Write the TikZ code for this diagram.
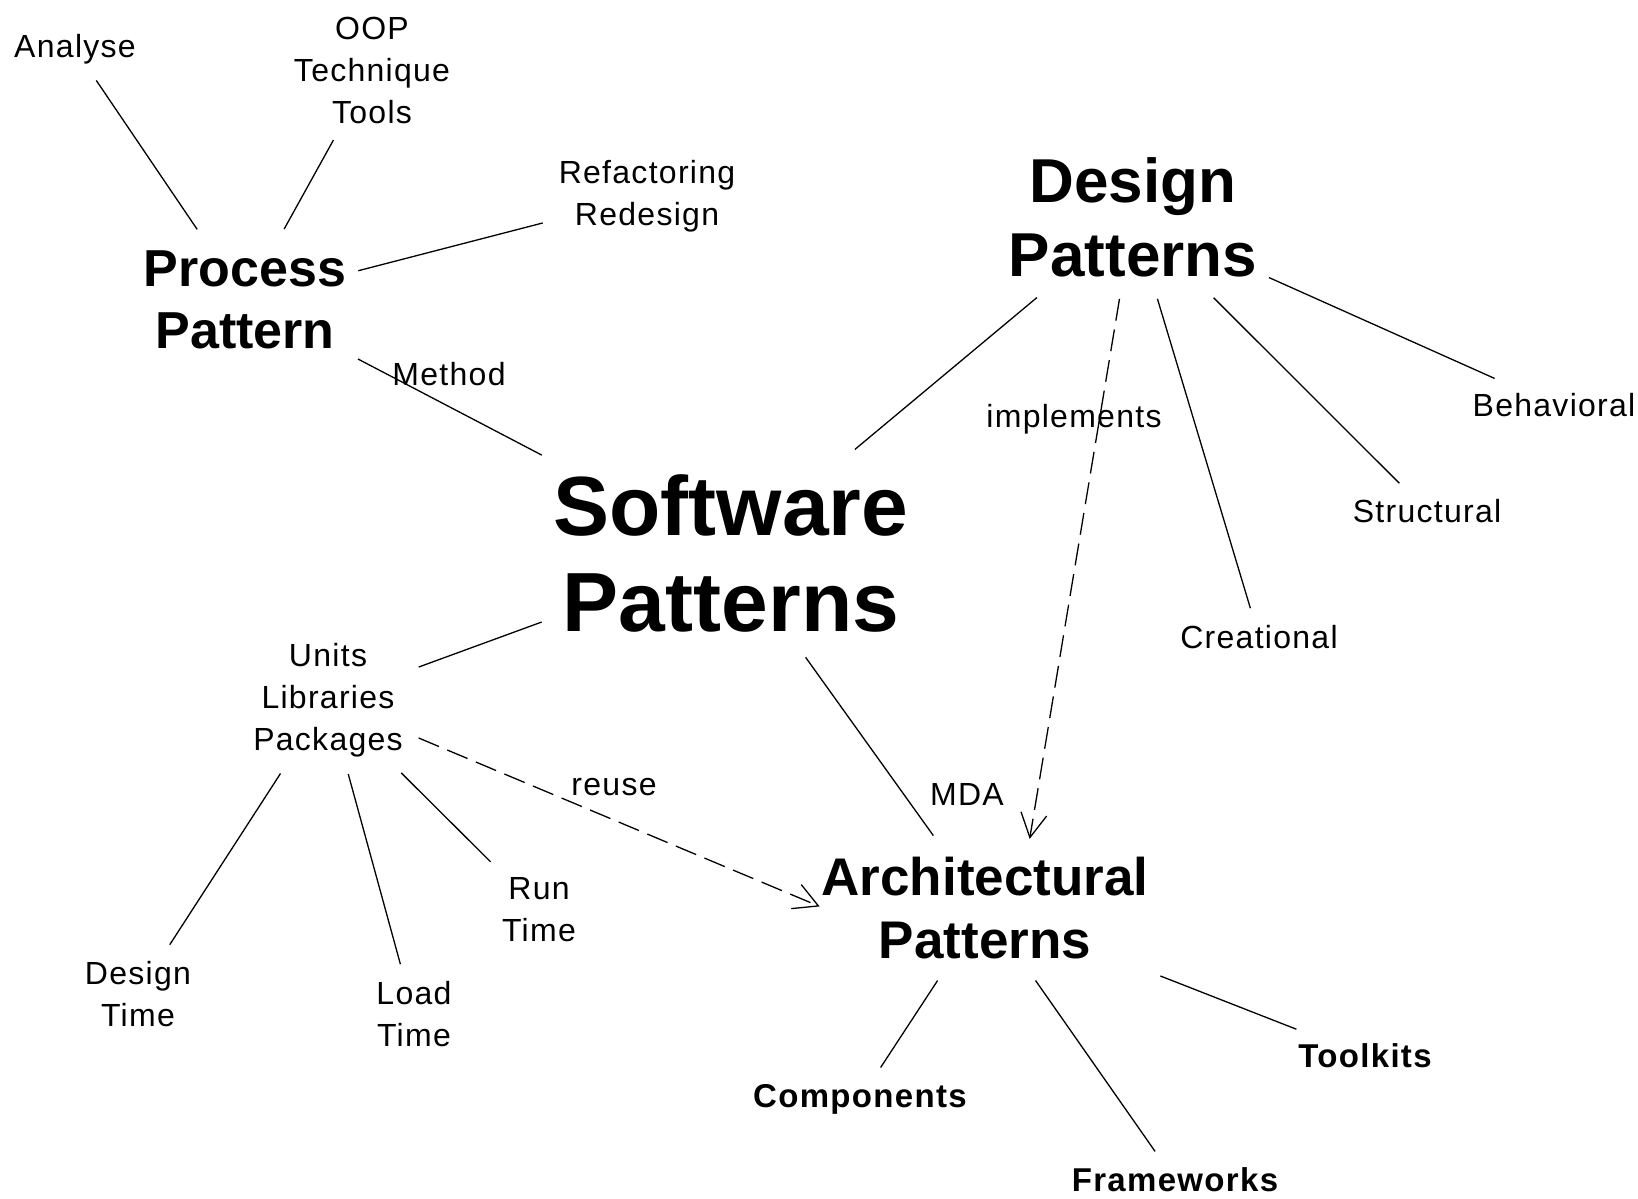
\documentclass[tikz,border=0pt]{standalone}
\usepackage{fontspec}
\setmainfont{Liberation Sans}
\newfontfamily\spacedfont[LetterSpace=4]{Liberation Sans}
\usetikzlibrary{arrows.meta}
\begin{document}
\begin{tikzpicture}[x=1pt,y=-1pt,
	small/.style={align=center,font=\spacedfont\fontsize{32}{42}\selectfont,inner xsep=12pt,inner ysep=13pt},
	smallbold/.style={align=center,font=\spacedfont\fontsize{33}{40}\selectfont\bfseries,inner xsep=12pt,inner ysep=13pt},
	title/.style={align=center,inner xsep=8pt,inner ysep=18pt},
	lbl/.style={font=\spacedfont\fontsize{32}{42}\selectfont,inner sep=0pt},
	link/.style={line width=1.3pt,shorten <=4pt,shorten >=4pt},
	dashlink/.style={link,dash pattern=on 22pt off 9pt,-{Straight Barb[length=24pt,width=26pt,line width=1.3pt]}}]
			\useasboundingbox (0,0) rectangle (1638,1199);
			% process side
			\node	(analyse) at (75,49) [small] {Analyse};
			\node	(oop) at (372,70) [small] {OOP\\Technique\\Tools};
			\node	(refac) at (647,196) [small] {Refactoring\\Redesign};
			\node	(pp) at (245,300) [title, font=\fontsize{52}{62}\selectfont\bfseries] {Process\\Pattern};
			% design side
			\node	(dp) at (1133,217) [title, font=\fontsize{62}{74}\selectfont\bfseries] {Design\\Patterns};
			\node	(behav) at (1554,405) [small] {Behavioral};
			\node	(struct) at (1427,511) [small] {Structural};
			\node	(creat) at (1259,637) [small] {Creational};
			% centre
			\node	(sp) at (731,553) [title, inner ysep=22pt, font=\fontsize{84}{96}\selectfont\bfseries] {Software\\Patterns};
			\node	(units) at (328,700) [small] {Units\\Libraries\\Packages};
			\node	(dtime) at (138,994) [small] {Design\\Time};
			\node	(load) at (414,1014) [small] {Load\\Time};
			\node	(run) at (539,910) [small] {Run\\Time};
			% architecture side
			\node	(ap) at (985,908) [title, font=\fontsize{53}{63}\selectfont\bfseries] {Architectural\\Patterns};
			\node	(comp) at (860,1099) [smallbold] {Components};
			\node	(frame) at (1175,1180) [smallbold] {Frameworks};
			\node	(toolk) at (1365,1056) [smallbold] {Toolkits};
			% connector labels
			\node	(method) at (449,374) [lbl] {Method};
			\node	(impl) at (1074,419) [lbl] {implements};
			\node	(reuse) at (614,787) [lbl] {reuse};
			\node	(mda) at (967,794) [lbl] {MDA};
			\draw[link]
			(pp) edge (analyse)
			(pp) edge (oop)
			(pp) edge (refac)
			(pp) edge (sp)
			(dp) edge (sp)
			(dp) edge (creat)
			(dp) edge (struct)
			(dp) edge (behav)
			(sp) edge (units)
			(sp) edge (ap)
			(units) edge (dtime)
			(units) edge (load)
			(units) edge (run)
			(ap) edge (comp)
			(ap) edge (frame)
			(ap) edge (toolk)
			;
			\draw 
			(dp) edge[dashlink] ([xshift=44pt,yshift=-4pt]ap.north)
			(units) edge[dashlink] ([xshift=10pt]ap.west)
			;
		\end{tikzpicture}
\end{document}
